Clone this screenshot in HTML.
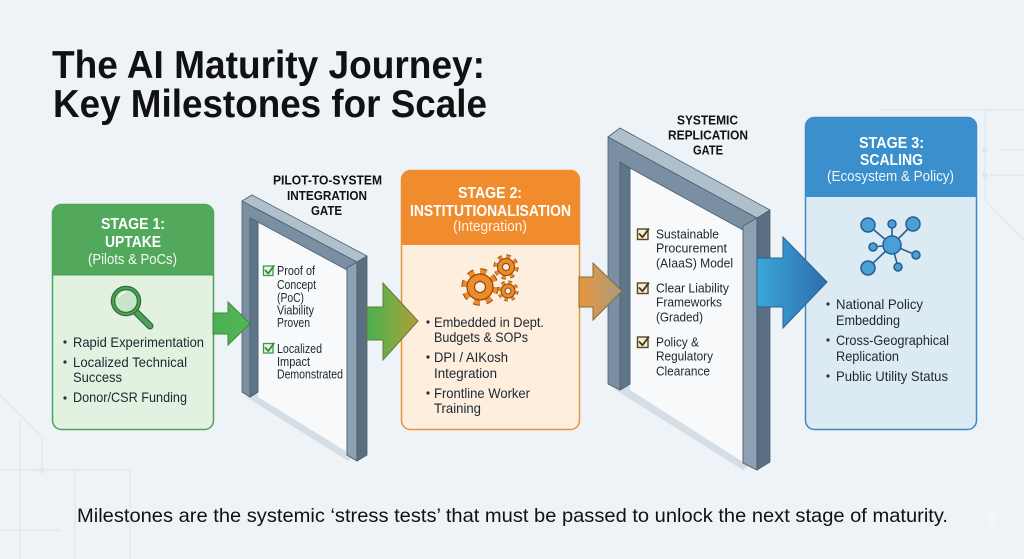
<!DOCTYPE html>
<html><head><meta charset="utf-8"><style>
html,body{margin:0;padding:0;background:#eef3f7;}
svg{display:block}
text{font-family:"Liberation Sans",sans-serif;}
.t{font-weight:bold;font-size:38.5px;fill:#111;}
.h{font-weight:bold;font-size:16px;fill:#ffffff;}
.s{font-size:15px;fill:#f4f9f4;}
.b{font-size:14px;fill:#1d2731;}
.g{font-size:12.5px;fill:#1d2731;}
.g2{font-size:13px;fill:#1d2731;}
.gl{font-weight:bold;font-size:12.5px;fill:#111;}
.c{font-size:19.5px;fill:#111;}
</style></head><body>
<svg width="1024" height="559" viewBox="0 0 1024 559" xmlns="http://www.w3.org/2000/svg">
<defs>
 <linearGradient id="g2" x1="0" x2="1" y1="0" y2="0"><stop offset="0" stop-color="#4caf50"/><stop offset="0.5" stop-color="#7aab45"/><stop offset="1" stop-color="#b8983a"/></linearGradient>
 <linearGradient id="g3" x1="0" x2="1" y1="0" y2="0"><stop offset="0" stop-color="#e8963a"/><stop offset="1" stop-color="#a89c82"/></linearGradient>
 <linearGradient id="g4" x1="0" x2="1" y1="0" y2="0"><stop offset="0" stop-color="#3ba7d9"/><stop offset="1" stop-color="#2f6cae"/></linearGradient>
 <linearGradient id="g1" x1="0" x2="1" y1="0" y2="0"><stop offset="0" stop-color="#4caf50"/><stop offset="1" stop-color="#55b55a"/></linearGradient>
</defs>
<rect width="1024" height="559" fill="#eef3f7"/>

<!-- faint circuit lines -->
<g stroke="#dfe6ec" stroke-width="1.2" fill="none">
 <path d="M0 395 L42 437 L42 470"/>
 <path d="M0 470 L130 470"/>
 <path d="M20 420 L20 559"/>
 <path d="M75 470 L75 559"/>
 <path d="M130 470 L130 559"/>
 <path d="M0 530 L60 530"/>
 <path d="M985 110 L985 200 L1024 240"/>
 <path d="M1000 150 L1024 150"/>
 <path d="M990 175 L1024 175"/>
 <path d="M880 110 L1024 110"/>
</g>
<g fill="#dfe6ec"><circle cx="42" cy="470" r="3"/><circle cx="985" cy="150" r="3"/><circle cx="985" cy="175" r="3"/></g>

<!-- Title -->
<text class="t" x="52" y="78" textLength="433" lengthAdjust="spacingAndGlyphs">The AI Maturity Journey:</text>
<text class="t" x="53" y="117" textLength="434" lengthAdjust="spacingAndGlyphs">Key Milestones for Scale</text>

<!-- gate shadows and openings -->
<polygon points="246,397 256,393 356,454 348,461" fill="#d5dde5"/>
<polygon points="614,389 626,384 752,463 743,470" fill="#d5dde5"/>
<polygon points="258,222 347,270 347,452 258,397" fill="#f7f9fb"/>
<polygon points="630,168 743,230 743,462 630,390" fill="#f7f9fb"/>

<!-- Stage 1 box -->
<rect x="52.5" y="204.5" width="161" height="225" rx="9" fill="#e3f1e0" stroke="#4ea359" stroke-width="1.5"/>
<path d="M52.5,275 V213.5 a9,9 0 0 1 9,-9 H204.5 a9,9 0 0 1 9,9 V275 Z" fill="#52a95b"/>
<line x1="52.5" y1="275" x2="213.5" y2="275" stroke="#4a9a53" stroke-width="1"/>

<!-- Stage 2 box -->
<rect x="401.5" y="170.5" width="178" height="259" rx="9" fill="#fdeedd" stroke="#e8953c" stroke-width="1.5"/>
<path d="M401.5,245 V179.5 a9,9 0 0 1 9,-9 H570.5 a9,9 0 0 1 9,9 V245 Z" fill="#f18c2e"/>

<!-- Stage 3 box -->
<rect x="805.5" y="117.5" width="171" height="312" rx="9" fill="#dceaf4" stroke="#3c88c2" stroke-width="1.5"/>
<path d="M805.5,197 V126.5 a9,9 0 0 1 9,-9 H967.5 a9,9 0 0 1 9,9 V197 Z" fill="#3b8fcc"/>

<!-- Gate 1 -->
<g stroke="#4b5e6e" stroke-width="0.8" stroke-linejoin="round">
 <polygon points="242,201 357,262 357,461 347,455 347,270 258,222 258,392 250,397 242,392" fill="#7a90a2"/>
 <polygon points="250,218 258,222 258,392 250,397" fill="#5f7588"/>
 <polygon points="347,268 357,262 357,461 347,455" fill="#8ca1b2"/>
 <polygon points="357,262 367,256 367,455 357,461" fill="#5a6f82"/>
 <polygon points="242,201 252,195 367,256 357,262" fill="#afbfcc"/>
</g>
<!-- Gate 2 -->
<g stroke="#4b5e6e" stroke-width="0.8" stroke-linejoin="round">
 <polygon points="608,137 757,218 757,470 743,463 743,230 630,168 630,384 620,390 608,384" fill="#7a90a2"/>
 <polygon points="620,162 630,168 630,384 620,390" fill="#5f7588"/>
 <polygon points="743,226 757,218 757,470 743,463" fill="#8ca1b2"/>
 <polygon points="757,218 770,210 770,462 757,470" fill="#5a6f82"/>
 <polygon points="608,137 620,128 770,210 757,218" fill="#afbfcc"/>
</g>

<!-- Arrows -->
<polygon points="213,313 228,313 228,302 250,323.5 228,345 228,334 213,334" fill="url(#g1)" stroke="#3b8a3e" stroke-width="1"/>
<polygon points="367,307 383,307 383,283 418,321 383,360 383,340 367,340" fill="url(#g2)" stroke="#617a3a" stroke-width="1"/>
<polygon points="579,277 593,277 593,263 622,291 593,320 593,307 579,307" fill="url(#g3)" stroke="#8a6a38" stroke-width="1"/>
<polygon points="757,258 783,258 783,237 827,282 783,328 783,307 757,307" fill="url(#g4)" stroke="#2a5f95" stroke-width="1"/>

<!-- Magnifier -->
<line x1="136" y1="312" x2="150" y2="326" stroke="#2c6e35" stroke-width="7" stroke-linecap="round"/>
<line x1="136" y1="312" x2="150" y2="326" stroke="#4ea359" stroke-width="4.5" stroke-linecap="round"/>
<circle cx="126" cy="301" r="13" fill="#c9e5c8" stroke="#2c6e35" stroke-width="4.5"/>
<circle cx="126" cy="301" r="13" fill="none" stroke="#4ea359" stroke-width="2"/>
<path d="M119 297 a8 8 0 0 1 7 -5" stroke="#ffffff" stroke-width="1.5" fill="none"/>

<!-- Gears -->
<g>
 <circle cx="480" cy="287" r="15.5" fill="none" stroke="#8a4a12" stroke-width="6.5" stroke-dasharray="6.1 6.1"/>
 <circle cx="480" cy="287" r="15.5" fill="none" stroke="#ef8a2b" stroke-width="4.5" stroke-dasharray="6.1 6.1"/>
 <circle cx="480" cy="287" r="13" fill="#ef8a2b" stroke="#8a4a12" stroke-width="1.2"/>
 <circle cx="480" cy="287" r="5.5" fill="#fdeedd" stroke="#8a4a12" stroke-width="1.2"/>
 <circle cx="506" cy="267" r="10.3" fill="none" stroke="#8a4a12" stroke-width="4.6" stroke-dasharray="4.04 4.04"/>
 <circle cx="506" cy="267" r="10.3" fill="none" stroke="#ef8a2b" stroke-width="3" stroke-dasharray="4.04 4.04"/>
 <circle cx="506" cy="267" r="8.5" fill="#ef8a2b" stroke="#8a4a12" stroke-width="1.1"/>
 <circle cx="506" cy="267" r="3.6" fill="#fdeedd" stroke="#8a4a12" stroke-width="1.1"/>
 <circle cx="508" cy="291" r="8.5" fill="none" stroke="#8a4a12" stroke-width="4" stroke-dasharray="3.34 3.34"/>
 <circle cx="508" cy="291" r="8.5" fill="none" stroke="#ef8a2b" stroke-width="2.6" stroke-dasharray="3.34 3.34"/>
 <circle cx="508" cy="291" r="7" fill="#ef8a2b" stroke="#8a4a12" stroke-width="1.1"/>
 <circle cx="508" cy="291" r="3" fill="#fdeedd" stroke="#8a4a12" stroke-width="1.1"/>
</g>

<!-- Network -->
<g stroke="#245f92" stroke-width="1.6">
 <line x1="892" y1="245" x2="868" y2="225"/><line x1="892" y1="245" x2="892" y2="224"/>
 <line x1="892" y1="245" x2="913" y2="224"/><line x1="892" y1="245" x2="873" y2="247"/>
 <line x1="892" y1="245" x2="916" y2="255"/><line x1="892" y1="245" x2="868" y2="268"/>
 <line x1="892" y1="245" x2="898" y2="267"/>
</g>
<g fill="#4a9fd8" stroke="#245f92" stroke-width="1.5">
 <circle cx="892" cy="245" r="9"/>
 <circle cx="868" cy="225" r="7"/><circle cx="892" cy="224" r="4"/><circle cx="913" cy="224" r="7"/>
 <circle cx="873" cy="247" r="4"/><circle cx="916" cy="255" r="4"/><circle cx="868" cy="268" r="7"/>
 <circle cx="898" cy="267" r="4"/>
</g>

<!-- Stage 1 text -->
<text class="h" x="133" y="229" text-anchor="middle" textLength="64" lengthAdjust="spacingAndGlyphs">STAGE 1:</text>
<text class="h" x="133" y="247" text-anchor="middle" textLength="56" lengthAdjust="spacingAndGlyphs">UPTAKE</text>
<text class="s" x="132.5" y="264" text-anchor="middle" textLength="89" lengthAdjust="spacingAndGlyphs">(Pilots &amp; PoCs)</text>
<g fill="#2a2f35"><circle cx="65" cy="342" r="1.6"/><circle cx="65" cy="362" r="1.6"/><circle cx="65" cy="398" r="1.6"/></g>
<text class="b" x="73" y="347" textLength="131" lengthAdjust="spacingAndGlyphs">Rapid Experimentation</text>
<text class="b" x="73" y="367" textLength="114" lengthAdjust="spacingAndGlyphs">Localized Technical</text>
<text class="b" x="73" y="382" textLength="49" lengthAdjust="spacingAndGlyphs">Success</text>
<text class="b" x="73" y="402" textLength="114" lengthAdjust="spacingAndGlyphs">Donor/CSR Funding</text>

<!-- Gate 1 labels -->
<text class="gl" x="327.5" y="184.5" text-anchor="middle" textLength="109" lengthAdjust="spacingAndGlyphs">PILOT-TO-SYSTEM</text>
<text class="gl" x="327" y="200" text-anchor="middle" textLength="80" lengthAdjust="spacingAndGlyphs">INTEGRATION</text>
<text class="gl" x="326.5" y="215" text-anchor="middle" textLength="31" lengthAdjust="spacingAndGlyphs">GATE</text>

<!-- Gate 1 checks -->
<g fill="#e6f3e4" stroke="#3f9a4c" stroke-width="1.3">
 <rect x="263.5" y="266" width="9.5" height="9.5"/>
 <rect x="263.5" y="343.5" width="9.5" height="9.5"/>
</g>
<g fill="none" stroke="#2f8a3c" stroke-width="1.8" stroke-linecap="round" stroke-linejoin="round">
 <path d="M265.5 270.5 l2.8 3 l5.5 -7.5"/>
 <path d="M265.5 348 l2.8 3 l5.5 -7.5"/>
</g>
<text class="g" x="277" y="275" textLength="38" lengthAdjust="spacingAndGlyphs">Proof of</text>
<text class="g" x="277" y="289" textLength="39" lengthAdjust="spacingAndGlyphs">Concept</text>
<text class="g" x="277" y="302" textLength="27" lengthAdjust="spacingAndGlyphs">(PoC)</text>
<text class="g" x="277" y="314.5" textLength="37" lengthAdjust="spacingAndGlyphs">Viability</text>
<text class="g" x="277" y="327" textLength="33" lengthAdjust="spacingAndGlyphs">Proven</text>
<text class="g" x="277" y="353" textLength="45" lengthAdjust="spacingAndGlyphs">Localized</text>
<text class="g" x="277" y="366" textLength="33" lengthAdjust="spacingAndGlyphs">Impact</text>
<text class="g" x="277" y="378.5" textLength="66" lengthAdjust="spacingAndGlyphs">Demonstrated</text>

<!-- Stage 2 text -->
<text class="h" x="490" y="198" text-anchor="middle" textLength="64" lengthAdjust="spacingAndGlyphs" fill="#fff5ea">STAGE 2:</text>
<text class="h" x="490.5" y="216" text-anchor="middle" textLength="161" lengthAdjust="spacingAndGlyphs">INSTITUTIONALISATION</text>
<text class="s" x="490" y="231" text-anchor="middle" textLength="74" lengthAdjust="spacingAndGlyphs" style="fill:#fff3e6">(Integration)</text>
<g fill="#2a2f35"><circle cx="428" cy="322" r="1.6"/><circle cx="428" cy="357" r="1.6"/><circle cx="428" cy="393" r="1.6"/></g>
<text class="b" x="434" y="327" textLength="110" lengthAdjust="spacingAndGlyphs">Embedded in Dept.</text>
<text class="b" x="434" y="342" textLength="94" lengthAdjust="spacingAndGlyphs">Budgets &amp; SOPs</text>
<text class="b" x="434" y="362" textLength="74" lengthAdjust="spacingAndGlyphs">DPI / AIKosh</text>
<text class="b" x="434" y="378" textLength="63" lengthAdjust="spacingAndGlyphs">Integration</text>
<text class="b" x="434" y="398" textLength="96" lengthAdjust="spacingAndGlyphs">Frontline Worker</text>
<text class="b" x="434" y="413" textLength="47" lengthAdjust="spacingAndGlyphs">Training</text>

<!-- Gate 2 labels -->
<text class="gl" x="707.5" y="124.5" text-anchor="middle" textLength="61" lengthAdjust="spacingAndGlyphs">SYSTEMIC</text>
<text class="gl" x="708" y="139.5" text-anchor="middle" textLength="80" lengthAdjust="spacingAndGlyphs">REPLICATION</text>
<text class="gl" x="708" y="154.5" text-anchor="middle" textLength="30" lengthAdjust="spacingAndGlyphs">GATE</text>

<!-- Gate 2 checks -->
<g fill="#f6eedc" stroke="#5a4520" stroke-width="1.4">
 <rect x="637.5" y="229" width="10.5" height="10.5"/>
 <rect x="637.5" y="283" width="10.5" height="10.5"/>
 <rect x="637.5" y="337" width="10.5" height="10.5"/>
</g>
<g fill="none" stroke="#4a3815" stroke-width="1.8" stroke-linecap="round" stroke-linejoin="round">
 <path d="M639.5 234 l3 3.2 l6 -8"/>
 <path d="M639.5 288 l3 3.2 l6 -8"/>
 <path d="M639.5 342 l3 3.2 l6 -8"/>
</g>
<text class="g2" x="656" y="238.5" textLength="63" lengthAdjust="spacingAndGlyphs">Sustainable</text>
<text class="g2" x="656" y="252.5" textLength="71" lengthAdjust="spacingAndGlyphs">Procurement</text>
<text class="g2" x="656" y="267.5" textLength="77" lengthAdjust="spacingAndGlyphs">(AIaaS) Model</text>
<text class="g2" x="656" y="292.5" textLength="73" lengthAdjust="spacingAndGlyphs">Clear Liability</text>
<text class="g2" x="656" y="306.5" textLength="66" lengthAdjust="spacingAndGlyphs">Frameworks</text>
<text class="g2" x="656" y="321.5" textLength="47" lengthAdjust="spacingAndGlyphs">(Graded)</text>
<text class="g2" x="656" y="346.5" textLength="43" lengthAdjust="spacingAndGlyphs">Policy &amp;</text>
<text class="g2" x="656" y="360.5" textLength="57" lengthAdjust="spacingAndGlyphs">Regulatory</text>
<text class="g2" x="656" y="375.5" textLength="54" lengthAdjust="spacingAndGlyphs">Clearance</text>

<!-- Stage 3 text -->
<text class="h" x="891.5" y="148" text-anchor="middle" textLength="65" lengthAdjust="spacingAndGlyphs">STAGE 3:</text>
<text class="h" x="891.5" y="165" text-anchor="middle" textLength="63" lengthAdjust="spacingAndGlyphs">SCALING</text>
<text class="s" x="890.5" y="181" text-anchor="middle" textLength="127" lengthAdjust="spacingAndGlyphs" style="fill:#eef6fc">(Ecosystem &amp; Policy)</text>
<g fill="#2a2f35"><circle cx="828" cy="304" r="1.6"/><circle cx="828" cy="340" r="1.6"/><circle cx="828" cy="376" r="1.6"/></g>
<text class="b" x="836" y="309" textLength="87" lengthAdjust="spacingAndGlyphs">National Policy</text>
<text class="b" x="836" y="325" textLength="64" lengthAdjust="spacingAndGlyphs">Embedding</text>
<text class="b" x="836" y="345" textLength="113" lengthAdjust="spacingAndGlyphs">Cross-Geographical</text>
<text class="b" x="836" y="361" textLength="63" lengthAdjust="spacingAndGlyphs">Replication</text>
<text class="b" x="836" y="381" textLength="112" lengthAdjust="spacingAndGlyphs">Public Utility Status</text>

<!-- Caption -->
<text class="c" x="77" y="522" textLength="871" lengthAdjust="spacingAndGlyphs">Milestones are the systemic ‘stress tests’ that must be passed to unlock the next stage of maturity.</text>

<!-- sparkle -->
<path d="M992 505 Q994 515 1004 517 Q994 519 992 529 Q990 519 980 517 Q990 515 992 505 Z" fill="#ffffff" opacity="0.35"/>
</svg>
</body></html>
